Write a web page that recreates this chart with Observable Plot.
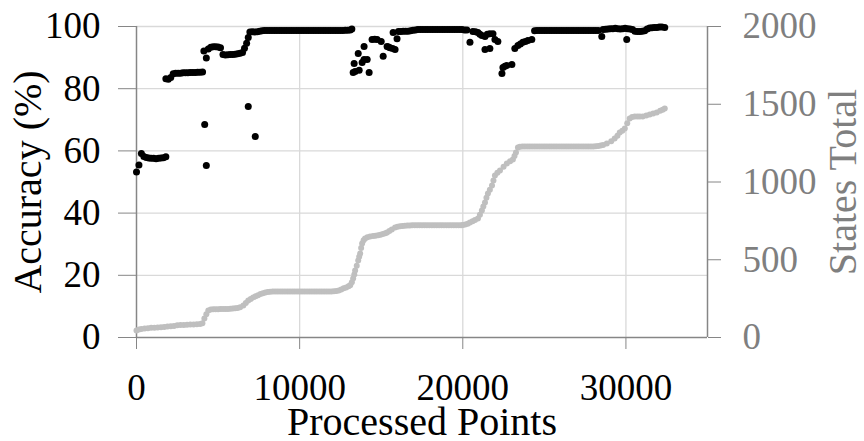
<!DOCTYPE html>
<html>
<head>
<meta charset="utf-8">
<script src="https://cdn.jsdelivr.net/npm/d3@7"></script>
<script src="https://cdn.jsdelivr.net/npm/@observablehq/plot@0.6"></script>
</head>
<body style="margin:0;background:#fff">
<div id="chart"></div>
<script>
// Accuracy (%) readings: [processed points, accuracy]
const accuracy = [
  [0,53.2],[150,55.5],[300,59.2],[450,58.2],[600,57.9],[750,57.7],[900,57.6],[1050,57.6],[1200,57.5],[1350,57.6],[1500,57.7],[1650,57.8],[1800,58.1],
  [1800,83.2],[1950,83.0],[2100,83.6],[2250,84.8],[2400,85.0],[2550,85.0],[2700,85.0],[2850,85.1],[3000,85.1],[3150,85.1],[3300,85.2],[3450,85.2],[3600,85.2],[3750,85.3],[3900,85.3],[4050,85.4],
  [4130,92.1],[4280,89.9],[4400,92.8],[4550,93.3],[4700,93.5],[4850,93.5],[5000,93.4],[5150,93.2],
  [5300,91.0],[5450,90.8],[5600,90.9],[5750,91.0],[5900,91.0],[6050,91.1],[6200,91.2],[6350,91.4],
  [6500,91.6],[6620,93.0],[6750,94.6],[6850,96.5],[6950,98.2],[7100,98.3],[7250,98.2],[7400,98.3],[7550,98.5],[7700,98.6],
  [7850,98.7],[8000,98.7],[8150,98.7],[8300,98.7],[8450,98.7],[8600,98.7],[8750,98.7],[8900,98.7],[9050,98.7],[9200,98.7],
  [9350,98.7],[9500,98.7],[9650,98.7],[9800,98.7],[9950,98.7],[10100,98.7],[10250,98.7],[10400,98.7],[10550,98.7],[10700,98.7],
  [10850,98.7],[11000,98.7],[11150,98.7],[11300,98.7],[11450,98.7],[11600,98.7],[11750,98.7],[11900,98.7],[12050,98.7],[12200,98.7],
  [12350,98.7],[12500,98.7],[12650,98.7],[12800,98.8],[12950,98.8],[13100,98.9],[13200,99.2],
  [4180,68.5],[4280,55.3],[6850,74.3],[7280,64.6],
  [13280,85.2],[13400,85.5],[13650,85.9],[14260,85.2],[13340,88.1],[13830,88.4],[13950,89.4],[14140,89.4],[13590,91.3],[13950,93.6],
  [14440,95.8],[14600,95.9],[14750,95.8],[15000,95.2],[15120,90.4],[15360,93.6],[15450,93.4],[15540,93.2],[15700,92.9],[15850,92.6],
  [15730,98.1],[15970,96.1],
  [16050,98.4],[16200,98.4],[16350,98.5],[16500,98.5],[16650,98.5],[16800,98.6],[16950,98.8],[17100,98.9],[17250,99.0],[17400,99.0],
  [17550,99.0],[17700,99.0],[17850,99.0],[18000,99.0],[18150,99.0],[18300,99.0],[18450,99.0],[18600,99.0],[18750,99.0],[18900,99.0],
  [19050,99.0],[19200,99.0],[19350,99.0],[19500,99.0],[19650,99.0],[19800,99.0],[19950,99.0],[20100,98.9],[20250,98.9],
  [20440,94.9],[20620,98.4],[20780,98.3],[20930,98.1],[21050,97.5],[21170,97.1],[21360,96.8],[21500,97.5],[21660,97.7],[21850,97.7],
  [21970,95.8],[22150,95.2],[21360,92.6],[21660,92.9],
  [22400,84.9],[22460,86.8],[22580,87.2],[22700,87.5],[23010,87.8],
  [23190,92.9],[23380,93.9],[23530,94.4],[23680,94.9],[23840,95.2],[23990,95.5],[24230,95.8],
  [24400,98.6],[24550,98.7],[24700,98.7],[24850,98.7],[25000,98.7],[25150,98.7],[25300,98.7],[25450,98.7],[25600,98.7],[25750,98.7],
  [25900,98.7],[26050,98.7],[26200,98.7],[26350,98.7],[26500,98.7],[26650,98.7],[26800,98.7],[26950,98.7],[27100,98.7],[27250,98.7],
  [27400,98.7],[27550,98.7],[27700,98.7],[27850,98.7],[28000,98.7],[28150,98.7],[28300,98.7],
  [28520,96.8],[28600,99.0],[28750,99.1],[28900,99.2],[29050,99.3],[29200,99.3],[29350,99.4],[29500,99.3],[29650,99.2],[29800,99.3],
  [29950,99.4],[30050,95.8],[30100,99.3],[30250,99.2],[30400,99.0],[30550,98.5],[30700,98.4],[30850,98.4],[31000,98.5],[31150,98.6],
  [31300,99.2],[31450,99.5],[31600,99.6],[31750,99.7],[31900,99.7],[32050,99.8],[32200,99.8],[32380,99.7]
];

// States Total readings: [processed points, states]
const states = [
  [0,45],[150,52],[300,55],[500,58],[700,60],[900,62],[1100,63],[1300,65],[1500,66],[1700,68],[1900,70],[2100,72],
  [2300,74],[2500,78],[2700,80],[2900,81],[3100,82],[3300,83],[3500,84],[3700,85],[3900,87],[4040,92],
  [4160,122],[4280,150],[4400,174],[4550,180],[4700,181],[4850,182],[5000,182],[5150,183],[5300,183],[5450,184],
  [5600,184],[5750,185],[5900,186],[6050,188],[6200,190],[6350,195],[6550,206],[6700,222],[6850,238],[7000,248],
  [7150,258],[7300,265],[7450,272],[7600,280],[7750,285],[7900,289],[8050,293],
  [8200,295],[8350,296],[8500,296],[8650,296],[8800,296],[8950,296],[9100,296],[9250,296],[9400,296],[9550,296],
  [9700,296],[9850,296],[10000,296],[10150,296],[10300,296],[10450,296],[10600,296],[10750,296],[10900,296],[11050,296],
  [11200,296],[11350,296],[11500,296],[11650,296],[11800,296],[11950,296],[12100,297],
  [12250,299],[12400,303],[12550,309],[12700,316],[12850,322],[13000,330],[13100,336],[13200,355],[13280,379],[13350,405],
  [13400,431],[13500,462],[13590,495],[13650,520],[13710,540],[13770,575],[13830,604],[13920,625],[14010,637],[14150,645],
  [14320,650],[14500,653],[14650,655],[14810,657],[14960,660],[15100,665],[15250,670],[15360,675],[15500,685],[15650,695],
  [15850,707],[16000,712],[16150,715],[16300,717],[16450,719],[16600,720],[16750,721],[16900,722],[17050,722],
  [17200,722],[17350,722],[17500,722],[17650,722],[17800,722],[17950,722],[18100,722],[18250,722],[18400,722],[18550,722],
  [18700,722],[18850,722],[19000,722],[19150,722],[19300,722],[19450,722],[19600,722],[19750,722],[19900,722],[20000,723],
  [20150,726],[20300,732],[20440,740],[20600,748],[20750,755],[20930,765],[21050,790],[21170,817],[21260,843],[21360,868],
  [21450,898],[21540,926],[21660,950],[21790,977],[21880,1010],[21970,1042],[22120,1060],[22280,1074],[22500,1098],[22700,1119],
  [22900,1133],[23070,1145],[23170,1168],[23260,1190],[23380,1222],
  [23500,1227],[23650,1228],[23800,1228],[23950,1228],[24100,1228],[24250,1228],[24400,1228],[24550,1228],[24700,1228],[24850,1228],
  [25000,1228],[25150,1228],[25300,1228],[25450,1228],[25600,1228],[25750,1228],[25900,1228],[26050,1228],[26200,1228],[26350,1228],
  [26500,1228],[26650,1228],[26800,1228],[26950,1228],[27100,1228],[27250,1228],[27400,1228],[27550,1228],[27700,1228],[27850,1228],
  [28000,1229],[28150,1230],[28300,1232],
  [28450,1235],[28600,1238],[28830,1248],[29100,1262],[29310,1280],[29480,1298],[29620,1318],[29780,1330],[29930,1344],[30080,1378],
  [30230,1408],[30380,1418],[30540,1421],[30700,1421],[30850,1421],[31030,1421],[31250,1428],[31460,1434],[31670,1440],[31890,1447],
  [32100,1458],[32250,1465],[32380,1473]
];

const xTicks = [0, 10000, 20000, 30000];
const accTicks = [0, 20, 40, 60, 80, 100];
const stateTicks = [0, 500, 1000, 1500, 2000];
const xMax = 35000, accMax = 100, stateMax = 2000;
const ratio = stateMax / accMax;

const axisGray = "#868686";
const gridGray = "#d9d9d9";
const stateGray = "#bfbfbf";
const stateText = "#7f7f7f";
const fontName = "Times New Roman";

const chart = Plot.plot({
  width: 864,
  height: 441,
  marginLeft: 136,
  marginRight: 157,
  marginTop: 26,
  marginBottom: 104,
  style: { fontFamily: fontName, background: "#fff", overflow: "visible" },
  x: { domain: [0, xMax] },
  y: { domain: [0, accMax] },
  marks: [
    Plot.gridY(accTicks.filter(d => d > 0), { stroke: gridGray, strokeOpacity: 1, strokeWidth: 1.3 }),
    Plot.gridX(xTicks.filter(d => d > 0), { stroke: gridGray, strokeOpacity: 1, strokeWidth: 1.3 }),
    Plot.ruleX([0], { stroke: axisGray, strokeWidth: 1.5 }),
    Plot.ruleX([xMax], { stroke: axisGray, strokeWidth: 1.5 }),
    Plot.ruleY([0], { stroke: axisGray, strokeWidth: 1.5 }),
    Plot.axisY(accTicks, { anchor: "left", tickSize: 18, tickPadding: 18, fontSize: 37, fontFamily: fontName, stroke: axisGray, fill: "#000", label: null }),
    Plot.axisY(stateTicks.map(v => v / ratio), { anchor: "right", tickFormat: d => String(d * ratio), tickSize: 13, tickPadding: 22, fontSize: 37, fontFamily: fontName, stroke: axisGray, fill: stateText, label: null }),
    Plot.axisX(xTicks, { anchor: "bottom", tickFormat: d => String(d), tickSize: 12, tickPadding: 24, fontSize: 37, fontFamily: fontName, stroke: axisGray, fill: "#000", label: null }),
    Plot.dot(states, { x: d => d[0], y: d => d[1] / ratio, r: 3, fill: stateGray, stroke: "none" }),
    Plot.dot(accuracy, { x: d => d[0], y: d => d[1], r: 3.5, fill: "#000", stroke: "none" }),
    Plot.text(["Accuracy (%)"], { frameAnchor: "left", rotate: -90, dx: -108, fontSize: 40, fontFamily: fontName, fill: "#000", textAnchor: "middle" }),
    Plot.text(["States Total"], { frameAnchor: "right", rotate: -90, dx: 136, fontSize: 40, fontFamily: fontName, fill: stateText, textAnchor: "middle" }),
    Plot.text(["Processed Points"], { frameAnchor: "bottom", dy: 97, fontSize: 40, fontFamily: fontName, fill: "#000", textAnchor: "middle" })
  ]
});
document.getElementById("chart").appendChild(chart);
</script>
</body>
</html>
